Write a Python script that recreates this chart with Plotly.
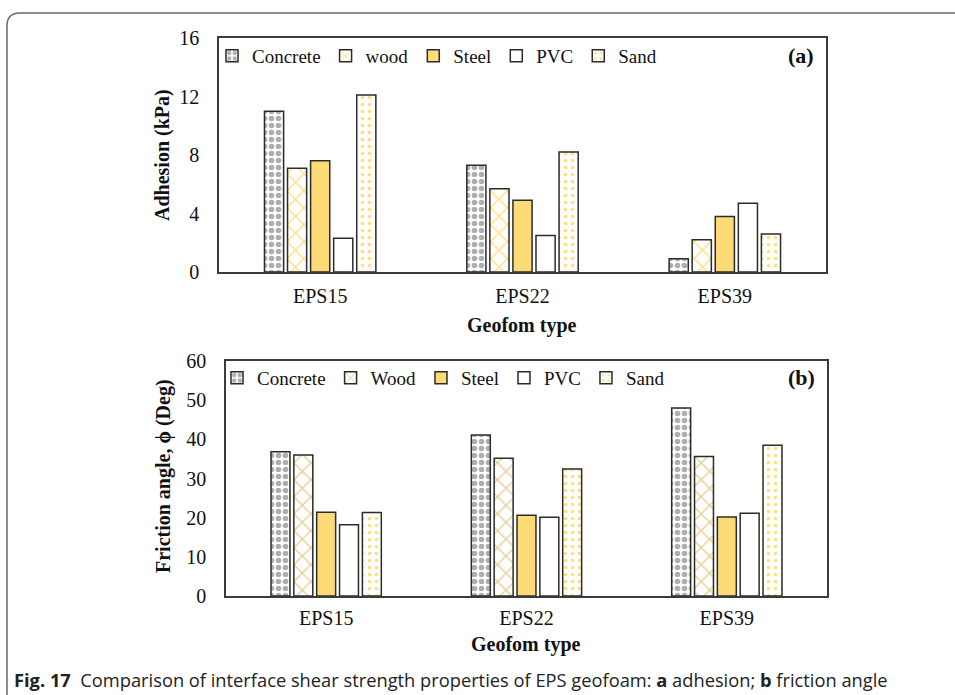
import plotly.graph_objects as go

# Geofoam types and interface materials
geofoam = ["EPS15", "EPS22", "EPS39"]
materials_a = ["Concrete", "wood", "Steel", "PVC", "Sand"]
materials_b = ["Concrete", "Wood", "Steel", "PVC", "Sand"]

# (a) adhesion, kPa
adh_concrete = [11.0, 7.3, 0.9]
adh_wood = [7.1, 5.7, 2.2]
adh_steel = [7.6, 4.9, 3.8]
adh_pvc = [2.3, 2.5, 4.7]
adh_sand = [12.1, 8.2, 2.6]

# (b) friction angle, deg
fri_concrete = [36.8, 41.1, 48.0]
fri_wood = [36.0, 35.2, 35.6]
fri_steel = [21.4, 20.6, 20.2]
fri_pvc = [18.2, 20.1, 21.1]
fri_sand = [21.3, 32.4, 38.5]

y_ticks_a = [0, 4, 8, 12, 16]
y_ticks_b = [0, 10, 20, 30, 40, 50, 60]

W, H = 955, 695
SERIF = "Liberation Serif, Times New Roman, serif"
EDGE = "#2b2b2b"


def styles(wood_color):
    return [
        dict(color="white", pattern=dict(shape=".", size=7, solidity=0.5,
                                         fgcolor="#5e5e5e", bgcolor="white")),
        dict(color="white", pattern=dict(shape="x", size=12, solidity=0.22,
                                         fgcolor=wood_color, bgcolor="white")),
        dict(color="#FFDB78"),
        dict(color="white"),
        dict(color="white", pattern=dict(shape=".", size=7, solidity=0.22,
                                         fgcolor="#FFC000", bgcolor="white")),
    ]


fig = go.Figure()

series_a = [adh_concrete, adh_wood, adh_steel, adh_pvc, adh_sand]
for name, vals, st in zip(materials_a, series_a, styles("#FFC000")):
    fig.add_trace(go.Bar(x=geofoam, y=vals, name=name, xaxis="x", yaxis="y",
                         legend="legend",
                         marker=dict(**st, line=dict(color=EDGE, width=1.5))))

series_b = [fri_concrete, fri_wood, fri_steel, fri_pvc, fri_sand]
for name, vals, st in zip(materials_b, series_b, styles("#CFA02A")):
    fig.add_trace(go.Bar(x=geofoam, y=vals, name=name, xaxis="x2", yaxis="y2",
                         legend="legend2",
                         marker=dict(**st, line=dict(color=EDGE, width=1.5))))


def px_x(p):
    return p / W


def px_y(p):
    return 1 - p / H


axis_common = dict(showline=True, linecolor="#3a3a3a", linewidth=1.5, mirror=True,
                   showgrid=False, zeroline=False, ticks="", automargin=False,
                   tickfont=dict(family=SERIF, size=20, color="#111"))

legend_font = dict(family=SERIF, size=19, color="#111")

fig.update_layout(
    width=W, height=H,
    margin=dict(l=0, r=0, t=0, b=0, pad=0, autoexpand=False),
    font=dict(family=SERIF, color="#111"),
    paper_bgcolor="white", plot_bgcolor="white",
    barmode="group", bargap=0.43, bargroupgap=0.17,
    xaxis=dict(domain=[px_x(219), px_x(826)], anchor="y", ticklabelstandoff=5, **axis_common),
    yaxis=dict(domain=[px_y(272), px_y(38)], anchor="x", range=[0, 16],
               tickvals=y_ticks_a, ticklabelstandoff=14, **axis_common),
    xaxis2=dict(domain=[px_x(226), px_x(827)], anchor="y2", ticklabelstandoff=3, **axis_common),
    yaxis2=dict(domain=[px_y(596), px_y(361)], anchor="x2", range=[0, 60],
                tickvals=y_ticks_b, ticklabelstandoff=14, **axis_common),
    legend=dict(orientation="h", x=px_x(212), y=px_y(37), xanchor="left", yanchor="top",
                font=legend_font, itemwidth=30,
                bgcolor="rgba(0,0,0,0)", traceorder="normal"),
    legend2=dict(orientation="h", x=px_x(217), y=px_y(359), xanchor="left", yanchor="top",
                 font=legend_font, itemwidth=30,
                 bgcolor="rgba(0,0,0,0)", traceorder="normal"),
)

title_font = dict(family=SERIF, size=20, color="#111")
label_font = dict(family=SERIF, size=22, color="#111")
annotations = [
    dict(text="<b>Adhesion (kPa)</b>", x=px_x(163), y=px_y(155), textangle=-90, font=title_font),
    dict(text="<b>Geofom type</b>", x=px_x(522), y=px_y(325), font=title_font),
    dict(text="<b>Friction angle, ϕ (Deg)</b>", x=px_x(163), y=px_y(476), textangle=-90,
         font=title_font),
    dict(text="<b>Geofom type</b>", x=px_x(526), y=px_y(644), font=title_font),
    dict(text="<b>(a)</b>", x=px_x(801), y=px_y(56), font=label_font),
    dict(text="<b>(b)</b>", x=px_x(801), y=px_y(377), font=label_font),
]
for a in annotations:
    fig.add_annotation(xref="paper", yref="paper", showarrow=False,
                       xanchor="center", yanchor="middle", **a)

# Caption below the figure
fig.add_annotation(
    xref="paper", yref="paper", x=px_x(12), y=px_y(679), xanchor="left", yanchor="middle",
    showarrow=False,
    text="<b>Fig. 17</b>  Comparison of interface shear strength properties of EPS geofoam: "
         "<b>a</b> adhesion; <b>b</b> friction angle",
    font=dict(family="Open Sans, sans-serif", size=18.3, color="#222"),
)

# Rounded frame around the figure (open on the right and bottom)
fig.add_shape(type="path", xref="paper", yref="paper",
              path=f"M {px_x(7)} {px_y(695)} L {px_x(7)} {px_y(26)} "
                   f"Q {px_x(7)} {px_y(13)} {px_x(20)} {px_y(13)} L 1 {px_y(13)}",
              line=dict(color="#6b6b6b", width=1.5))

fig.write_html("out.html")
